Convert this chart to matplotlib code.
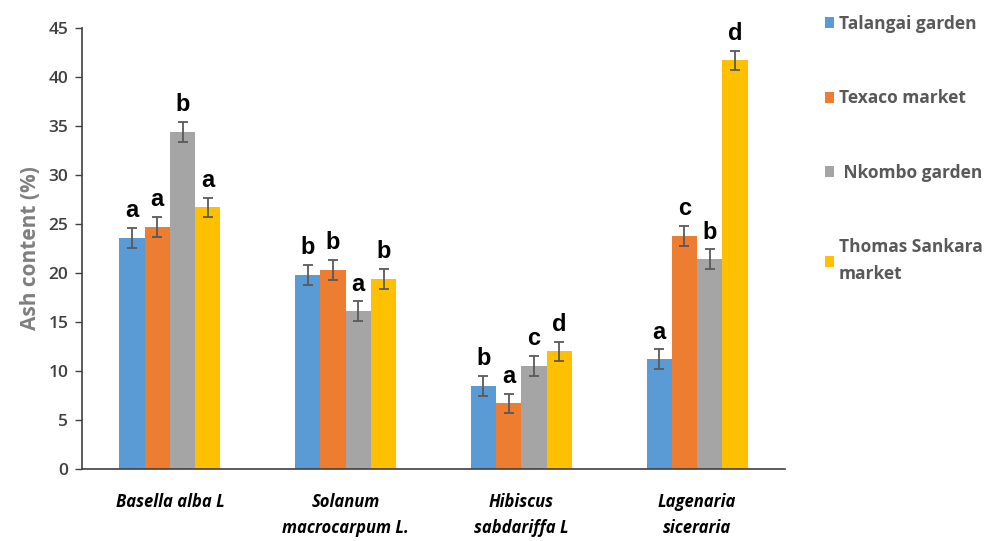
import matplotlib
matplotlib.use("Agg")
import matplotlib.pyplot as plt
import numpy as np

species = ["Basella alba L", "Solanum\nmacrocarpum L.", "Hibiscus\nsabdariffa L", "Lagenaria\nsiceraria"]
sites = ["Talangai garden", "Texaco market", " Nkombo garden", "Thomas Sankara\nmarket"]
colors = ["#5b9bd5", "#ed7d31", "#a5a5a5", "#ffc000"]

ash = [
    [23.6, 19.8, 8.5, 11.2],   # Talangai garden
    [24.7, 20.3, 6.7, 23.8],   # Texaco market
    [34.4, 16.1, 10.5, 21.4],  # Nkombo garden
    [26.7, 19.4, 12.0, 41.7],  # Thomas Sankara market
]
err = [
    [1.0, 1.0, 1.0, 1.0],
    [1.0, 1.0, 1.0, 1.0],
    [1.0, 1.0, 1.0, 1.0],
    [1.0, 1.0, 1.0, 1.0],
]
letters = [
    ["a", "b", "b", "a"],
    ["a", "b", "a", "c"],
    ["b", "a", "c", "b"],
    ["a", "b", "d", "d"],
]

fig = plt.figure(figsize=(10.02, 5.41), dpi=100)
ax = fig.add_axes([82 / 1002, 72 / 541, 703 / 1002, 441 / 541])

x = np.arange(len(species))
width = 0.144
for i in range(len(sites)):
    pos = x + (i - 1.5) * width
    ax.bar(pos, ash[i], width, color=colors[i], label=sites[i], zorder=2)
    ax.errorbar(pos, ash[i], yerr=err[i], fmt="none", ecolor="#595959",
                elinewidth=1.3, capsize=3.6, capthick=1.3, zorder=3)
    for p, v, e, t in zip(pos, ash[i], err[i], letters[i]):
        ax.text(p, v + e + 0.6, t, ha="center", va="bottom", fontsize=17,
                fontweight="bold", family="Liberation Sans", color="black")

ax.set_xlim(-0.5, len(species) - 0.5)
ax.set_ylim(0, 45)
ax.set_yticks(range(0, 46, 5))
ax.set_xticks(x)
ax.set_xticklabels(species, fontsize=12, fontweight="bold", fontstyle="italic",
                   family="Open Sans", color="black", linespacing=1.6)
ax.tick_params(axis="x", length=0, pad=17)
ax.tick_params(axis="y", length=5, width=1, color="#404040", labelsize=12.5,
               labelcolor="#404040", pad=5)
for lab in ax.get_yticklabels():
    lab.set_family("Open Sans")
    lab.set_fontweight("semibold")
for s in ["top", "right"]:
    ax.spines[s].set_visible(False)
ax.spines["left"].set_color("#404040")
ax.spines["bottom"].set_color("#404040")
ax.spines["left"].set_linewidth(1.2)
ax.spines["bottom"].set_linewidth(1.2)
ax.set_ylabel("Ash content (%)", fontsize=15, fontweight="bold", color="#7f7f7f",
              family="Open Sans", labelpad=5)

leg = ax.legend(loc="upper left", bbox_to_anchor=(1.035, 1.065), frameon=False,
                handlelength=0.5, handleheight=0.6, handletextpad=0.3,
                labelspacing=3.25, prop={"family": "Open Sans", "weight": "bold", "size": 12.5})
for t in leg.get_texts():
    t.set_color("#595959")
    t.set_linespacing(1.6)

fig.savefig("out.png", dpi=100)
